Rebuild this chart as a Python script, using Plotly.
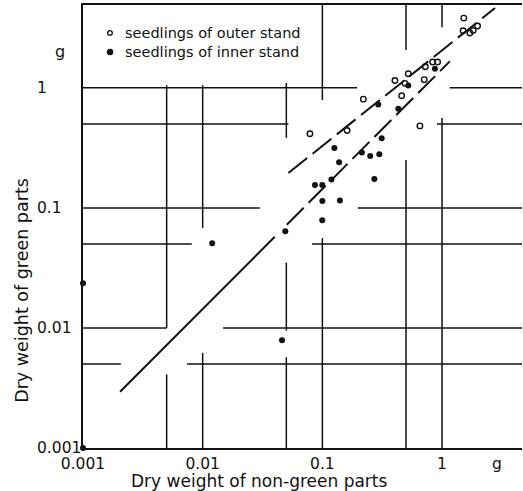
import numpy as np
import plotly.graph_objects as go

# Seedlings of the outer stand (open circles): dry weight in g
outer_nongreen = [1.52, 1.50, 1.71, 1.82, 1.98, 0.835, 0.918, 0.725, 0.522, 0.404,
                  0.490, 0.710, 0.460, 0.220, 0.161, 0.0787, 0.653]
outer_green = [3.81, 2.99, 2.86, 3.00, 3.27, 1.64, 1.64, 1.50, 1.31, 1.15,
               1.09, 1.17, 0.858, 0.805, 0.441, 0.414, 0.482]

# Seedlings of the inner stand (filled dots): dry weight in g
inner_nongreen = [0.872, 0.522, 0.293, 0.431, 0.313, 0.126, 0.138, 0.214, 0.251, 0.299,
                  0.272, 0.119, 0.0867, 0.0998, 0.100, 0.140, 0.0998, 0.049, 0.0120,
                  0.046, 0.001, 0.001]
inner_green = [1.44, 1.045, 0.726, 0.668, 0.381, 0.316, 0.240, 0.289, 0.270, 0.280,
               0.174, 0.172, 0.155, 0.155, 0.114, 0.115, 0.079, 0.064, 0.0508,
               0.0079, 0.0236, 0.001]

# Fitted allometric lines (end points, g)
outer_fit_x = [0.052, 2.77]
outer_fit_y = [0.195, 4.62]
inner_fit_x = [0.00204, 1.16]
inner_fit_y = [0.00294, 1.66]

# Axis ticks
x_tick_vals = [0.001, 0.01, 0.1, 1, 2.88]
x_tick_text = ["0.001", "0.01", "0.1", "1", "g"]
y_tick_vals = [0.001, 0.01, 0.1, 1]
y_tick_text = ["0.001", "0.01", "0.1", "1"]

X_RANGE = [-3, 0.668]
Y_RANGE = [-3, 0.69]
X_LO, X_HI = 10 ** X_RANGE[0], 10 ** X_RANGE[1]
Y_LO, Y_HI = 10 ** Y_RANGE[0], 10 ** Y_RANGE[1]

# Broken grid: horizontal rules (y: list of x spans) and vertical rules (x: list of y spans)
h_rules = {
    1.0: [(X_LO, 0.195), (1.16, X_HI)],
    0.5: [(X_LO, 0.052), (0.906, X_HI)],
    0.1: [(X_LO, 0.030), (0.198, X_HI)],
    0.05: [(X_LO, 0.0081), (0.082, X_HI)],
    0.01: [(X_LO, 0.005), (0.0148, X_HI)],
    0.005: [(X_LO, 0.00207), (0.0074, X_HI)],
}
v_rules = {
    0.005: [(0.0041, Y_LO), (1.05, 0.01)],
    0.01: [(0.0062, Y_LO), (1.05, 0.068)],
    0.05: [(0.0057, Y_LO), (0.0095, 0.035), (0.383, 1.1)],
    0.1: [(0.056, Y_LO), (0.79, Y_HI)],
    0.5: [(0.25, Y_LO), (2.07, Y_HI)],
    1.0: [(0.56, Y_LO), (3.2, Y_HI)],
}

gx, gy = [], []
for yv, spans in h_rules.items():
    for a, b in spans:
        gx += [a, b, None]
        gy += [yv, yv, None]
for xv, spans in v_rules.items():
    for a, b in spans:
        gx += [xv, xv, None]
        gy += [a, b, None]

INK = "#111111"
FONT = "DejaVu Sans"

fig = go.Figure()
fig.add_trace(go.Scatter(x=gx, y=gy, mode="lines", line=dict(color=INK, width=1.5),
                         hoverinfo="skip", showlegend=False))

fig.add_trace(go.Scatter(x=outer_fit_x, y=outer_fit_y, mode="lines",
                         line=dict(color=INK, width=2, dash="24px,7px"),
                         hoverinfo="skip", showlegend=False))
fig.add_trace(go.Scatter(x=inner_fit_x, y=inner_fit_y, mode="lines",
                         line=dict(color=INK, width=2,
                                   dash="219px,17px" + ",24px,7px" * 9),
                         hoverinfo="skip", showlegend=False))

fig.add_trace(go.Scatter(x=outer_nongreen, y=outer_green, mode="markers",
                         name="seedlings of outer stand", cliponaxis=False,
                         marker=dict(symbol="circle-open", size=5.5, color=INK,
                                     line=dict(width=1.4, color=INK)),
                         showlegend=False))
fig.add_trace(go.Scatter(x=inner_nongreen, y=inner_green, mode="markers",
                         name="seedlings of inner stand", cliponaxis=False,
                         marker=dict(symbol="circle", size=6, color=INK),
                         showlegend=False))

annotations = []
for v, t in zip(y_tick_vals, y_tick_text):
    annotations.append(dict(x=-0.109, xref="paper", y=np.log10(v), yref="y", text=t,
                            showarrow=False, xanchor="left", yanchor="middle",
                            font=dict(family=FONT, size=15.5, color=INK)))
annotations.append(dict(x=-0.068, xref="paper", y=0.894, yref="paper", text="g",
                        showarrow=False, xanchor="left", yanchor="middle",
                        font=dict(family=FONT, size=16, color=INK)))
annotations.append(dict(x=0.403, xref="paper", y=-0.075, yref="paper",
                        text="Dry weight of non-green parts", showarrow=False,
                        xanchor="center", yanchor="middle",
                        font=dict(family=FONT, size=17, color=INK)))
annotations.append(dict(x=-0.139, xref="paper", y=0.357, yref="paper",
                        text="Dry weight of green parts", showarrow=False, textangle=-90,
                        xanchor="center", yanchor="middle",
                        font=dict(family=FONT, size=17.5, color=INK)))

legend_rows = [("seedlings of outer stand", 0.937, False),
               ("seedlings of inner stand", 0.894, True)]
shapes = []
for text, py, filled in legend_rows:
    annotations.append(dict(x=0.091, xref="paper", y=py, yref="paper", text=text,
                            showarrow=False, xanchor="left", yanchor="middle",
                            font=dict(family=FONT, size=14.5, color=INK)))
    r = 2.6 if filled else 2.3
    shapes.append(dict(type="circle", xref="paper", yref="paper",
                       xsizemode="pixel", ysizemode="pixel",
                       xanchor=0.0615, yanchor=py, x0=-r, x1=r, y0=-r, y1=r,
                       line=dict(color=INK, width=1.3),
                       fillcolor=INK if filled else "white"))

# short right-hand frame piece
shapes.append(dict(type="line", xref="paper", yref="y", x0=1, x1=1,
                   y0=np.log10(Y_LO), y1=np.log10(0.008),
                   line=dict(color=INK, width=1.5)))

fig.update_layout(
    width=523, height=491,
    margin=dict(l=83, r=1, t=5, b=43),
    paper_bgcolor="white", plot_bgcolor="white",
    annotations=annotations, shapes=shapes,
    showlegend=False,
)
fig.update_xaxes(type="log", range=X_RANGE, showgrid=False, zeroline=False,
                 showline=True, mirror=True, linecolor=INK, linewidth=2,
                 tickvals=x_tick_vals, ticktext=x_tick_text, ticks="",
                 tickfont=dict(family=FONT, size=15.5, color=INK))
fig.update_yaxes(type="log", range=Y_RANGE, showgrid=False, zeroline=False,
                 showline=True, mirror=False, linecolor=INK, linewidth=2,
                 showticklabels=False, ticks="")

fig.write_html("out.html")
